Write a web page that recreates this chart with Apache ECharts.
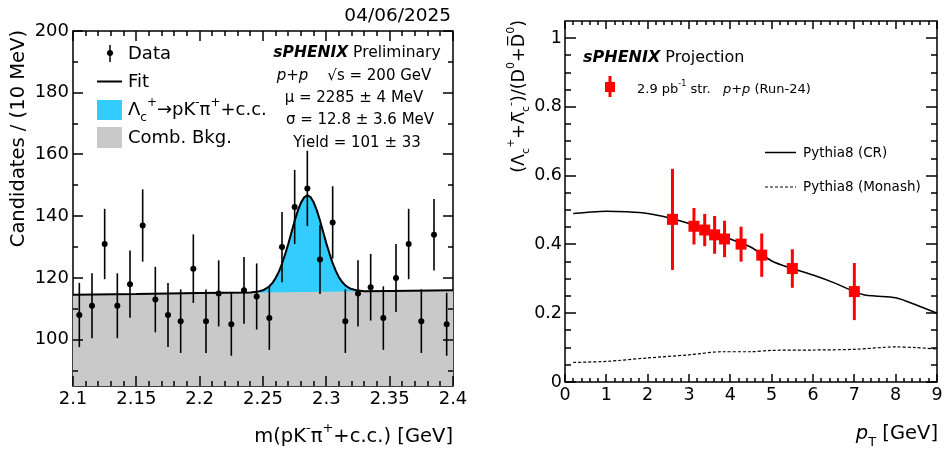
<!DOCTYPE html>
<html>
<head>
<meta charset="utf-8">
<script src="https://cdn.jsdelivr.net/npm/echarts@6/dist/echarts.min.js"></script>
<style>
  html, body { margin: 0; padding: 0; background: #fff; }
  #chart { width: 947px; height: 451px; }
</style>
</head>
<body>
<div id="chart"></div>
<script>
// left panel: m(pK-pi+) spectrum, 10 MeV bins
var massBins = [2.105, 2.115, 2.125, 2.135, 2.145, 2.155, 2.165, 2.175, 2.185, 2.195,
  2.205, 2.215, 2.225, 2.235, 2.245, 2.255, 2.265, 2.275, 2.285, 2.295,
  2.305, 2.315, 2.325, 2.335, 2.345, 2.355, 2.365, 2.375, 2.385, 2.395];
var counts = [108, 111, 131, 111, 118, 137, 113, 108, 106, 123,
  106, 115, 105, 116, 114, 107, 130, 143, 149, 126,
  138, 106, 115, 117, 107, 120, 131, 106, 134, 105];
var countErr = [10.4, 10.5, 11.4, 10.5, 10.9, 11.7, 10.6, 10.4, 10.3, 11.1,
  10.3, 10.7, 10.2, 10.8, 10.7, 10.3, 11.4, 12.0, 12.2, 11.2,
  11.7, 10.3, 10.7, 10.8, 10.3, 11.0, 11.4, 10.3, 11.6, 10.2];
// fit curve (signal + background)
var fitMass = [2.1, 2.15, 2.2, 2.24, 2.245, 2.25, 2.2525, 2.255, 2.2575, 2.26,
  2.2625, 2.265, 2.2675, 2.27, 2.2725, 2.275, 2.2775, 2.28, 2.2825, 2.285,
  2.2875, 2.29, 2.2925, 2.295, 2.2975, 2.3, 2.3025, 2.305, 2.3075, 2.31,
  2.3125, 2.315, 2.3175, 2.32, 2.325, 2.33, 2.35, 2.4];
var fitTotal = [114.6, 114.8, 115.1, 115.3, 115.5, 116.0, 116.6, 117.3, 118.4, 120.0,
  122.0, 124.6, 127.7, 131.1, 134.8, 138.5, 141.8, 144.4, 146.1, 146.8,
  146.2, 144.5, 141.9, 138.6, 134.9, 131.2, 127.9, 124.8, 122.3, 120.2,
  118.7, 117.6, 116.9, 116.4, 115.9, 115.7, 115.8, 116.0];
var bkgMass = [2.1, 2.4];
var bkgLevel = [114.6, 116.0];
var massLabels = [2.1, 2.15, 2.2, 2.25, 2.3, 2.35, 2.4];
var countLabels = [100, 120, 140, 160, 180, 200];

// right panel: Lambda_c / D0 ratio projection
var ptPoints = [2.6, 3.12, 3.38, 3.62, 3.86, 4.26, 4.76, 5.5, 7.0];
var ratio = [0.473, 0.453, 0.442, 0.428, 0.416, 0.401, 0.369, 0.330, 0.263];
var ratioErr = [0.147, 0.053, 0.047, 0.055, 0.053, 0.051, 0.063, 0.056, 0.083];
var crPt = [0.2, 0.5, 1, 1.5, 2, 2.5, 3, 3.5, 4, 4.5, 5, 5.5, 6, 6.5, 7, 7.25, 7.5, 8, 8.5, 9];
var crRatio = [0.490, 0.493, 0.497, 0.495, 0.490, 0.478, 0.461, 0.439, 0.416, 0.392,
  0.352, 0.330, 0.311, 0.289, 0.263, 0.253, 0.250, 0.245, 0.224, 0.200];
var monashPt = [0.2, 1, 2, 3, 3.8, 4.5, 5, 6, 7, 8, 8.5, 9];
var monashRatio = [0.057, 0.060, 0.070, 0.079, 0.088, 0.088, 0.092, 0.093, 0.095, 0.102, 0.100, 0.096];
var ptLabels = [0, 1, 2, 3, 4, 5, 6, 7, 8, 9];
var ratioLabels = [0, 0.2, 0.4, 0.6, 0.8, 1];

var FONT = 'DejaVu Sans';
var BLUE = '#33ccff';
var GRAY = '#c9c9c9';
var RED = '#ff0000';

var panels = [
  {left: 73, top: 31, width: 380, height: 355, xr: [2.1, 2.4], yr: [85, 200]},
  {left: 565, top: 21, width: 372, height: 361, xr: [0, 9], yr: [0, 1.05]}
];

function fmt (v) {
  return String(Math.round(v * 1000) / 1000)
}

// minor tick positions between the labelled ones
function minorTicks (from, to, step, major) {
  var out = [];
  var n = Math.round((to - from) / step);
  for (var k = 0; k <= n; k++) {
    var v = Math.round((from + k * step) * 1000) / 1000;
    if (major.indexOf(v) < 0) out.push(v);
  }
  return out
}

var massMinor = minorTicks(2.1, 2.4, 0.01, massLabels);
var countMinor = minorTicks(90, 190, 10, countLabels);
var ptMinor = minorTicks(0, 9, 0.2, ptLabels);
var ratioMinor = minorTicks(0, 1, 0.05, ratioLabels);

function axis (grid, range, labels, fontSize, margin) {
  return {
    type: 'value',
    gridIndex: grid,
    min: range[0],
    max: range[1],
    axisLine: {show: false},
    axisTick: {show: false},
    axisLabel: {
      show: true,
      customValues: labels,
      margin: margin,
      color: '#000',
      fontSize: fontSize,
      fontFamily: FONT,
      formatter: fmt
    },
    splitLine: {show: false},
    minorTick: {show: false}
  }
}

function errorBars (color, width) {
  return function (params, api) {
    var x = api.value(0);
    var y = api.value(1);
    var e = api.value(2);
    var hi = api.coord([x, y + e]);
    var lo = api.coord([x, y - e]);
    return {
      type: 'line',
      shape: {x1: hi[0], y1: hi[1], x2: lo[0], y2: lo[1]},
      style: {stroke: color, lineWidth: width}
    }
  }
}

function pairs (xs, ys) {
  return xs.map(function (x, i) { return [x, ys[i]] })
}

function richSet (size, small) {
  return {
    i: {fontSize: size, fontFamily: FONT, fontStyle: 'italic', lineHeight: size * 1.5},
    bi: {fontSize: size, fontFamily: FONT, fontStyle: 'italic', fontWeight: 'bold', lineHeight: size * 1.5},
    sup: {fontSize: small, fontFamily: FONT, lineHeight: small, verticalAlign: 'top'},
    sub: {fontSize: small, fontFamily: FONT, lineHeight: small, verticalAlign: 'bottom'}
  }
}

function label (x, y, text, size, align, extra) {
  var el = {
    type: 'text',
    x: x,
    y: y,
    z: 100,
    style: {
      text: text,
      fontSize: size,
      fontFamily: FONT,
      lineHeight: size * 1.5,
      fill: '#000',
      align: align,
      textAlign: align,
      verticalAlign: 'middle',
      textVerticalAlign: 'middle',
      rich: richSet(size, Math.round(size * 0.65))
    }
  };
  if (extra) {
    for (var k in extra) el[k] = extra[k];
  }
  return el
}

// ROOT-style inward ticks on all four sides of a panel frame,
// placed on the same linear scale the grid uses
function frameTicks (p, xMajor, xMinor, yMajor, yMinor, xLen, yLen) {
  var x0 = p.left;
  var x1 = p.left + p.width;
  var y0 = p.top + p.height;
  var y1 = p.top;
  var els = [];
  function seg (a, b, c, d) {
    els.push({type: 'line', z: 95, shape: {x1: a, y1: b, x2: c, y2: d}, style: {stroke: '#000', lineWidth: 1.5}});
  }
  function sx (v) { return Math.round(x0 + (v - p.xr[0]) / (p.xr[1] - p.xr[0]) * p.width) }
  function sy (v) { return Math.round(y0 - (v - p.yr[0]) / (p.yr[1] - p.yr[0]) * p.height) }
  [[xMajor, xLen[0]], [xMinor, xLen[1]]].forEach(function (set) {
    set[0].forEach(function (v) {
      var px = sx(v);
      seg(px, y0, px, y0 - set[1]);
      seg(px, y1, px, y1 + set[1]);
    });
  });
  [[yMajor, yLen[0]], [yMinor, yLen[1]]].forEach(function (set) {
    set[0].forEach(function (v) {
      var py = sy(v);
      seg(x0, py, x0 + set[1], py);
      seg(x1, py, x1 - set[1], py);
    });
  });
  return els
}

var peakFill = pairs(fitMass, fitTotal).filter(function (p) { return p[0] >= 2.24 && p[0] <= 2.33 });

var ticks = frameTicks(panels[0], massLabels, massMinor, countLabels, countMinor, [10, 5], [10, 5])
  .concat(frameTicks(panels[1], ptLabels, ptMinor, ratioLabels, ratioMinor, [8, 4], [11, 6]));

var texts = [
  label(451, 16, '04/06/2025', 18.5, 'right'),
  label(19, 30, 'Candidates / (10 MeV)', 19.5, 'right', {rotation: Math.PI / 2}),
  label(453, 437, 'm(pK{sup|-}π{sup|+}+c.c.) [GeV]', 19.5, 'right'),

  // left legend
  {type: 'line', shape: {x1: 110, y1: 45, x2: 110, y2: 62}, style: {stroke: '#000', lineWidth: 1.5}},
  {type: 'circle', shape: {cx: 110, cy: 53, r: 3}, style: {fill: '#000'}},
  label(128, 54, 'Data', 18, 'left'),
  {type: 'line', shape: {x1: 97, y1: 81.5, x2: 122, y2: 81.5}, style: {stroke: '#000', lineWidth: 2}},
  label(128, 82, 'Fit', 18, 'left'),
  {type: 'rect', shape: {x: 97, y: 100, width: 25, height: 20}, style: {fill: BLUE}},
  label(128, 110, 'Λ{sub|c}{sup|+}→pK{sup|-}π{sup|+}+c.c.', 18, 'left'),
  {type: 'rect', shape: {x: 97, y: 127, width: 25, height: 21}, style: {fill: GRAY}},
  label(128, 138, 'Comb. Bkg.', 18, 'left'),

  // left annotations
  label(357, 53, '{bi|sPHENIX} Preliminary', 15.5, 'center'),
  label(354, 76, '{i|p}+{i|p}    √s = 200 GeV', 15, 'center'),
  label(354, 98, 'μ = 2285 ± 4 MeV', 15, 'center'),
  label(360, 120, 'σ = 12.8 ± 3.6 MeV', 15, 'center'),
  label(357, 143, 'Yield = 101 ± 33', 15, 'center'),

  // right panel texts
  label(519, 20, '(Λ{sub|c}{sup|+}+Λ\u0305{sub|c}{sup|-})/(D{sup|0}+D\u0305{sup|0})', 17.5, 'right', {rotation: Math.PI / 2}),
  label(938, 434, '{i|p}{sub|T} [GeV]', 19.5, 'right'),
  label(583, 58, '{bi|sPHENIX} Projection', 16, 'left'),
  {type: 'line', shape: {x1: 610, y1: 76, x2: 610, y2: 97}, style: {stroke: RED, lineWidth: 3}},
  {type: 'rect', shape: {x: 605, y: 82, width: 10, height: 10}, style: {fill: RED}},
  label(637, 90, '2.9 pb{sup|-1} str.   {i|p}+{i|p} (Run-24)', 13, 'left'),
  {type: 'line', shape: {x1: 765, y1: 152.5, x2: 796, y2: 152.5}, style: {stroke: '#000', lineWidth: 1.5}},
  label(803, 153, 'Pythia8 (CR)', 13.5, 'left'),
  {type: 'line', shape: {x1: 765, y1: 187, x2: 796, y2: 187}, style: {stroke: '#000', lineWidth: 1.2, lineDash: [3, 2]}},
  label(803, 187.5, 'Pythia8 (Monash)', 13.5, 'left')
];

var chart = echarts.init(document.getElementById('chart'));
var option = {
  animation: false,
  backgroundColor: '#fff',
  textStyle: {fontFamily: FONT},
  grid: panels.map(function (p) {
    return {left: p.left, top: p.top, width: p.width, height: p.height, outerBoundsMode: 'none',
      show: true, borderColor: '#000', borderWidth: 1.5}
  }),
  xAxis: [
    axis(0, panels[0].xr, massLabels, 18, 4),
    axis(1, panels[1].xr, ptLabels, 17.5, 4)
  ],
  yAxis: [
    axis(0, panels[0].yr, countLabels, 18, 4),
    axis(1, panels[1].yr, ratioLabels, 17.5, 3)
  ],
  series: [
    {
      type: 'line', xAxisIndex: 0, yAxisIndex: 0, data: peakFill, z: 1,
      symbol: 'none', silent: true,
      lineStyle: {opacity: 0},
      areaStyle: {color: BLUE, opacity: 1, origin: 'start'}
    },
    {
      type: 'line', xAxisIndex: 0, yAxisIndex: 0, data: pairs(bkgMass, bkgLevel), z: 1,
      symbol: 'none', silent: true,
      lineStyle: {opacity: 0},
      areaStyle: {color: GRAY, opacity: 1, origin: 'start'}
    },
    {
      type: 'line', xAxisIndex: 0, yAxisIndex: 0, data: pairs(fitMass, fitTotal), z: 3,
      symbol: 'none', silent: true,
      lineStyle: {color: '#000', width: 2}
    },
    {
      type: 'custom', xAxisIndex: 0, yAxisIndex: 0, z: 4,
      renderItem: errorBars('#000', 1.6),
      data: massBins.map(function (m, i) { return [m, counts[i], countErr[i]] })
    },
    {
      type: 'scatter', xAxisIndex: 0, yAxisIndex: 0, z: 5,
      symbol: 'circle', symbolSize: 6,
      itemStyle: {color: '#000', opacity: 1},
      data: pairs(massBins, counts)
    },
    {
      type: 'line', xAxisIndex: 1, yAxisIndex: 1, data: pairs(crPt, crRatio), z: 3,
      symbol: 'none', smooth: 0.3, silent: true,
      lineStyle: {color: '#000', width: 1.5}
    },
    {
      type: 'line', xAxisIndex: 1, yAxisIndex: 1, data: pairs(monashPt, monashRatio), z: 3,
      symbol: 'none', smooth: 0.3, silent: true,
      lineStyle: {color: '#000', width: 1.2, type: [3, 2]}
    },
    {
      type: 'custom', xAxisIndex: 1, yAxisIndex: 1, z: 4,
      renderItem: errorBars(RED, 3),
      data: ptPoints.map(function (p, i) { return [p, ratio[i], ratioErr[i]] })
    },
    {
      type: 'scatter', xAxisIndex: 1, yAxisIndex: 1, z: 5,
      symbol: 'rect', symbolSize: 11,
      itemStyle: {color: RED, opacity: 1},
      data: pairs(ptPoints, ratio)
    }
  ],
  graphic: texts.concat(ticks)
};
chart.setOption(option);
</script>
</body>
</html>
